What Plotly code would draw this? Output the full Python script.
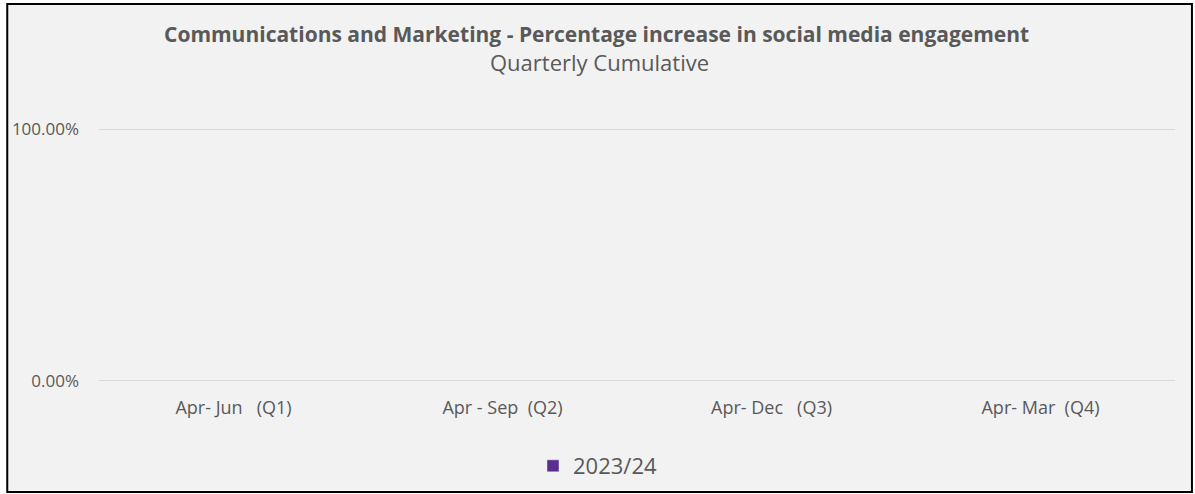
import plotly.graph_objects as go

categories = ["Apr-\u00a0Jun\u00a0\u00a0\u00a0(Q1)", "Apr\u00a0-\u00a0Sep\u00a0\u00a0(Q2)",
              "Apr-\u00a0Dec\u00a0\u00a0\u00a0(Q3)", "Apr-\u00a0Mar\u00a0\u00a0(Q4)"]
series_name = "2023/24"
values_2023_24 = [None, None, None, None]
y_tick_vals = [0, 1]
title_text = "Communications and Marketing - Percentage increase in social media engagement"
subtitle_text = "Quarterly Cumulative"

W, H = 1195, 494
L, R, T, B = 96, 20, 128, 112
pw, ph = W - L - R, H - T - B

def px_x(p):
    return (p - L) / pw

def px_y(p):
    return (H - B - p) / ph

fig = go.Figure()
fig.add_trace(go.Bar(x=categories, y=values_2023_24, name=series_name,
                     marker=dict(color="#5a2d91"), showlegend=True))

fig.update_layout(
    width=W, height=H,
    margin=dict(l=L, r=R, t=T, b=B),
    paper_bgcolor="#f2f2f2",
    plot_bgcolor="#f2f2f2",
    font=dict(family="Open Sans", color="#595959"),
    xaxis=dict(type="category", showgrid=False, zeroline=False, showline=False,
               range=[-0.5, 3.5], tickfont=dict(size=18, color="#595959"),
               ticks="", ticklabelstandoff=13),
    yaxis=dict(range=[-0.004, 1.004], tickvals=y_tick_vals, tickformat=".2%",
               showgrid=True, gridcolor="#d9d9d9", gridwidth=1,
               zeroline=False, showline=False,
               tickfont=dict(size=17, color="#595959"),
               ticks="", ticklabelstandoff=19),
    legend=dict(orientation="h", x=0.5, xref="container", xanchor="center",
                y=1 - 466 / H, yref="container", yanchor="middle",
                font=dict(size=22, color="#595959"), bgcolor="rgba(0,0,0,0)"),
    annotations=[
        dict(text="<b>" + title_text + "</b>", xref="paper", yref="paper",
             x=px_x(595), y=px_y(34), xanchor="center", yanchor="middle",
             showarrow=False, font=dict(size=21, color="#595959")),
        dict(text=subtitle_text, xref="paper", yref="paper",
             x=px_x(598), y=px_y(62), xanchor="center", yanchor="middle",
             showarrow=False, font=dict(size=22, color="#595959")),
    ],
    shapes=[
        dict(type="rect", xref="paper", yref="paper", layer="above",
             x0=px_x(0), x1=px_x(W), y0=px_y(H), y1=px_y(0),
             line=dict(color="white", width=7), fillcolor="rgba(0,0,0,0)"),
        dict(type="rect", xref="paper", yref="paper", layer="above",
             x0=px_x(4), x1=px_x(1192), y0=px_y(492), y1=px_y(4),
             line=dict(color="black", width=2), fillcolor="rgba(0,0,0,0)"),
    ],
)

fig.write_html("out.html")
